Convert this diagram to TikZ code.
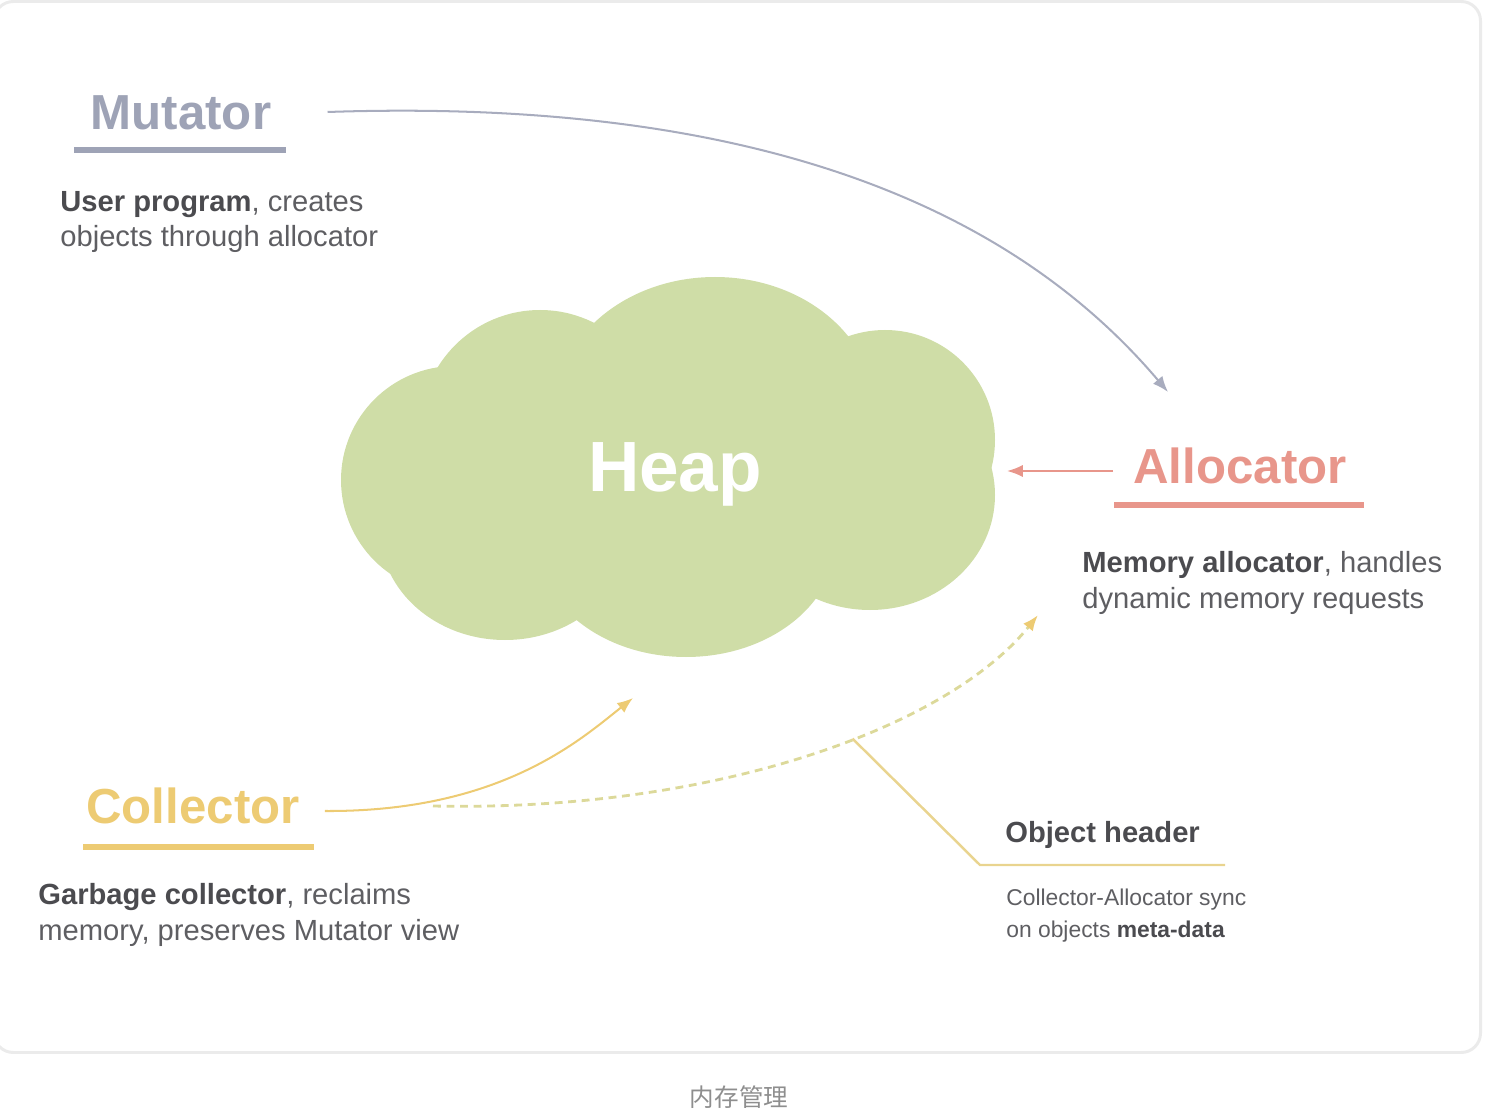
\documentclass[tikz,border=0pt]{standalone}
\usepackage{fontspec}
\setmainfont{Liberation Sans}
\newfontfamily\cjk{Noto Sans CJK SC}
\usepackage{tikz}
\usetikzlibrary{positioning}
\usetikzlibrary{calc}
\usetikzlibrary{arrows.meta}
\definecolor{mutgray}{HTML}{9EA3B6}
\definecolor{mutline}{HTML}{A8ACBE}
\definecolor{allocred}{HTML}{E8968B}
\definecolor{collyel}{HTML}{EDCB73}
\definecolor{hdrline}{HTML}{E9D48F}
\definecolor{dashgreen}{HTML}{DCD99A}
\definecolor{heapgreen}{HTML}{CFDDA7}
\definecolor{bodygray}{HTML}{5E5E62}
\definecolor{boldgray}{HTML}{4B4B4F}
\definecolor{framegray}{HTML}{EBEBEB}
\definecolor{capgray}{HTML}{8E8E8E}
\newcommand{\keyword}[1]{{\bfseries\color{boldgray}#1}}
\tikzset{every node/.style={inner sep=0pt},
title/.style={font=\fontsize{28}{34}\selectfont\bfseries,anchor=base},
desc/.style={font=\fontsize{16.6}{20.2}\selectfont,text=bodygray,align=left,anchor=base west},
ul/.style={line width=3.4pt},
link/.style={line width=1.15pt,-{Latex[length=9pt,width=7pt]}}}

\begin{document}
\begin{tikzpicture}[x=0.02cm,y=-0.02cm]
\useasboundingbox (0,0) rectangle (1488,1118);
\draw[framegray,line width=1.7pt,rounded corners=11pt] (-6,1.5) rectangle (1480.5,1052.5);
% heap cloud
\foreach \cx/\cy/\rx/\ry in {715/410/160/133, 540/430/120/120, 455/480/114/114, 505/530/125/110, 686/540/150/117, 870/495/125/115, 885/440/110/110, 670/470/250/140}
\fill[heapgreen] (\cx,\cy) ellipse [x radius=\rx, y radius=\ry];
\node (heap) at (675,492) [anchor=base,font=\fontsize{40.5}{48}\selectfont\bfseries,text=white] {Heap};
% titles
\node (mut) at (181,130) [title,text=mutgray] {Mutator};
\node (alloc) at (1240,483) [title,text=allocred] {Allocator};
\node (col) at (193,823) [title,text=collyel] {Collector};
\draw[ul,mutgray] ($(mut.base west)+(-16,20)$) -- ($(mut.base east)+(14,20)$);
\draw[ul,allocred] ($(alloc.base west)+(-19,22)$) -- ($(alloc.base east)+(17,22)$);
\draw[ul,collyel] ($(col.base west)+(-3,24)$) -- ($(col.base east)+(14,24)$);
% descriptions (base = last line)
\node (mutdesc) at (60,247) [desc] {\keyword{User program}, creates\\objects through allocator};
\node (allocdesc) at (1082,608) [desc] {\keyword{Memory allocator}, handles\\dynamic memory requests};
\node (coldesc) at (38,940) [desc] {\keyword{Garbage collector}, reclaims\\memory, preserves Mutator view};
\node (hdr) at (1005,842) [anchor=base west,font=\fontsize{16.6}{20}\selectfont\bfseries,text=boldgray] {Object header};
\node (hdrdesc) at (1006,937) [desc,font=\fontsize{13}{18.2}\selectfont] {Collector-Allocator sync\\on objects \keyword{meta-data}};
% connectors
\coordinate (alloctop) at (1168,392);
\coordinate (heapR) at (1007,471);
\coordinate (heapB) at (633,698);
\coordinate (colfork) at (433,806);
\coordinate (allocB) at (1038,615);
\coordinate (hdrknee) at (980,865);
\draw[link,mutline] ($(mut.base east)+(56,-18)$) .. controls (680,100) and (980,170) .. (alloctop);
\draw[link,allocred] ($(alloc.base west)+(-20,-12)$) -- (heapR);
\draw[link,collyel] ($(col.base east)+(25,-12)$) .. controls (500,812) and (580,740) .. (heapB);
\draw[dashgreen,line width=1.6pt,dash pattern=on 4.5pt off 3.2pt,-{Latex[length=9pt,width=7pt,color=collyel]}] (colfork) .. controls (720,812) and (950,725) .. coordinate[pos=0.57] (hdrtap) (allocB);
\draw[hdrline,line width=1.4pt] (hdrtap) -- (hdrknee) -- ($(hdr.base east)+(25,23)$);
% caption
\node (cap) at (739,1097) [font=\cjk\fontsize{14}{16}\selectfont,text=capgray] {内存管理};
\end{tikzpicture}
\end{document}
